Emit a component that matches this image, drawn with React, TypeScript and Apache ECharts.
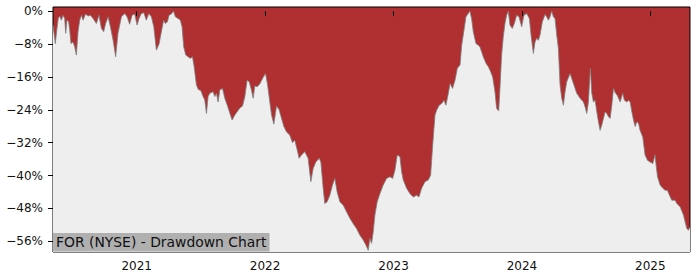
import React, { useEffect, useRef } from "react";
import * as echarts from "echarts";

const years: number[] = [
  2020.348, 2020.366, 2020.379, 2020.389, 2020.4, 2020.413, 2020.426, 2020.439, 2020.447, 2020.457,
  2020.47, 2020.478, 2020.488, 2020.504, 2020.517, 2020.53, 2020.543, 2020.556, 2020.569, 2020.582,
  2020.602, 2020.621, 2020.639, 2020.66, 2020.686, 2020.706, 2020.725, 2020.743, 2020.758, 2020.777,
  2020.795, 2020.816, 2020.836, 2020.854, 2020.881, 2020.906, 2020.925, 2020.945, 2020.964, 2020.984,
  2021.003, 2021.018, 2021.036, 2021.055, 2021.075, 2021.094, 2021.114, 2021.133, 2021.153, 2021.174,
  2021.197, 2021.21, 2021.223, 2021.239, 2021.252, 2021.27, 2021.286, 2021.301, 2021.322, 2021.34,
  2021.353, 2021.366, 2021.382, 2021.4, 2021.418, 2021.434, 2021.447, 2021.465, 2021.481, 2021.499,
  2021.517, 2021.53, 2021.543, 2021.556, 2021.569, 2021.595, 2021.608, 2021.621, 2021.634, 2021.647,
  2021.668, 2021.686, 2021.704, 2021.725, 2021.743, 2021.764, 2021.782, 2021.803, 2021.824, 2021.842,
  2021.86, 2021.876, 2021.894, 2021.907, 2021.92, 2021.938, 2021.959, 2021.972, 2021.985, 2022.003,
  2022.018, 2022.031, 2022.05, 2022.068, 2022.089, 2022.109, 2022.128, 2022.146, 2022.167, 2022.193,
  2022.213, 2022.231, 2022.25, 2022.265, 2022.283, 2022.309, 2022.335, 2022.356, 2022.374, 2022.395,
  2022.421, 2022.434, 2022.452, 2022.465, 2022.483, 2022.504, 2022.525, 2022.543, 2022.561, 2022.582,
  2022.608, 2022.634, 2022.66, 2022.686, 2022.712, 2022.738, 2022.764, 2022.785, 2022.803, 2022.816,
  2022.829, 2022.842, 2022.855, 2022.873, 2022.894, 2022.92, 2022.946, 2022.972, 2022.993, 2023.011,
  2023.029, 2023.05, 2023.063, 2023.076, 2023.102, 2023.128, 2023.154, 2023.18, 2023.198, 2023.219,
  2023.245, 2023.271, 2023.289, 2023.305, 2023.323, 2023.336, 2023.356, 2023.375, 2023.393, 2023.408,
  2023.427, 2023.44, 2023.46, 2023.479, 2023.497, 2023.518, 2023.531, 2023.549, 2023.564, 2023.582,
  2023.595, 2023.608, 2023.621, 2023.642, 2023.66, 2023.673, 2023.699, 2023.72, 2023.738, 2023.757,
  2023.772, 2023.79, 2023.803, 2023.819, 2023.829, 2023.842, 2023.855, 2023.868, 2023.881, 2023.894,
  2023.907, 2023.925, 2023.941, 2023.959, 2023.977, 2023.998, 2024.016, 2024.037, 2024.058, 2024.071,
  2024.089, 2024.102, 2024.115, 2024.128, 2024.141, 2024.159, 2024.18, 2024.193, 2024.206, 2024.219,
  2024.232, 2024.245, 2024.258, 2024.271, 2024.284, 2024.297, 2024.31, 2024.323, 2024.336, 2024.349,
  2024.375, 2024.401, 2024.427, 2024.453, 2024.479, 2024.492, 2024.505, 2024.518, 2024.533, 2024.544,
  2024.557, 2024.57, 2024.583, 2024.596, 2024.609, 2024.622, 2024.635, 2024.648, 2024.661, 2024.674,
  2024.687, 2024.7, 2024.713, 2024.726, 2024.744, 2024.765, 2024.785, 2024.798, 2024.817, 2024.83,
  2024.843, 2024.856, 2024.869, 2024.882, 2024.895, 2024.908, 2024.92, 2024.941, 2024.959, 2024.978,
  2024.998, 2025.019, 2025.037, 2025.045, 2025.056, 2025.076, 2025.097, 2025.115, 2025.133, 2025.149,
  2025.167, 2025.193, 2025.206, 2025.232, 2025.258, 2025.284, 2025.297, 2025.309,
];

const drawdown: number[] = [
  -3.4, -7.9, -4.2, -1.8, -1.2, -2.2, -1.0, -1.8, -5.4, -2.2,
  -2.6, -4.6, -7.9, -7.5, -8.7, -10.7, -5.0, -2.2, -1.0, -2.2,
  -0.7, -1.2, -1.0, -1.8, -3.0, -1.0, -4.2, -5.0, -3.0, -1.4,
  -3.8, -7.1, -11.1, -5.4, -1.4, -0.6, -1.4, -3.2, -1.0, -0.7,
  -3.4, -1.8, -0.6, -0.4, -2.2, -0.6, -1.4, -3.8, -9.5, -8.0,
  -4.2, -2.2, -3.0, -2.6, -1.0, -0.7, 0, -1.4, -1.8, -2.2,
  -3.8, -8.7, -10.7, -11.1, -11.5, -11.1, -13.5, -18.0, -19.1, -19.3,
  -20.8, -21.6, -24.9, -20.8, -20.0, -19.6, -20.8, -20.0, -22.1, -19.2,
  -18.8, -21.2, -22.8, -24.8, -26.5, -25.3, -24.5, -23.6, -23.1, -20.8,
  -16.8, -17.2, -19.3, -21.2, -18.2, -18.4, -17.7, -16.9, -16.1, -15.2,
  -17.7, -20.8, -25.3, -27.5, -23.1, -24.0, -26.1, -28.1, -29.4, -30.2,
  -32.0, -31.4, -33.8, -35.8, -35.0, -34.2, -35.8, -41.5, -38.3, -36.7,
  -35.8, -36.7, -43.1, -46.8, -46.4, -44.8, -42.3, -40.7, -44.0, -46.4,
  -47.2, -48.8, -50.4, -51.7, -52.9, -54.5, -55.7, -56.9, -58.2, -55.3,
  -56.5, -53.7, -49.6, -46.4, -44.4, -42.3, -40.7, -40.3, -40.7, -38.7,
  -35.0, -35.4, -39.1, -41.1, -43.1, -44.4, -45.2, -44.8, -45.2, -43.1,
  -41.5, -41.1, -39.9, -32.6, -25.3, -24.1, -22.9, -22.5, -21.7, -22.9,
  -20.0, -17.6, -18.8, -16.8, -13.9, -13.1, -8.3, -4.6, -1.4, -0.6,
  0, -1.8, -5.0, -7.9, -8.3, -8.7, -11.1, -12.7, -13.5, -14.8,
  -16.0, -19.6, -23.7, -24.3, -18.8, -10.7, -6.2, -3.0, -1.0, 0,
  -3.4, -4.2, -3.0, -1.0, -1.4, -3.8, -1.0, -0.6, -1.8, -5.8,
  -10.3, -7.5, -6.6, -7.1, -5.8, -2.6, -0.8, -1.4, -2.2, -1.4,
  0, -1.4, -1.8, -5.8, -9.1, -18.0, -21.2, -22.9, -19.6, -17.2,
  -15.2, -17.6, -20.0, -21.2, -22.1, -23.3, -24.9, -22.1, -13.9, -20.0,
  -22.1, -21.7, -24.5, -26.9, -29.0, -27.7, -26.1, -24.5, -24.9, -25.7,
  -26.1, -22.9, -18.8, -19.8, -20.6, -22.1, -20.0, -21.7, -22.1, -21.7,
  -22.1, -24.5, -26.5, -28.1, -26.9, -27.3, -29.0, -30.6, -35.0, -36.3,
  -36.7, -37.1, -35.0, -37.5, -40.3, -42.3, -43.1, -43.6, -43.6, -44.8,
  -46.0, -46.0, -46.8, -47.6, -49.6, -52.9, -53.3, -52.5,
];

const yearTicks: number[] = [2021, 2022, 2023, 2024, 2025];
const pctTicks: number[] = [0, -8, -16, -24, -32, -40, -48, -56];
const chartTitle = "FOR (NYSE) - Drawdown Chart";

const FONT = "DejaVu Sans";

export default function App() {
  const ref = useRef<HTMLDivElement>(null);

  useEffect(() => {
    document.body.style.margin = "0";
    if (!ref.current) return;
    const chart = echarts.init(ref.current, null, { renderer: "svg" });
    const data = years.map((y, i) => [y, drawdown[i]]);
    chart.setOption({
      animation: false,
      grid: {
        left: 53,
        right: 10,
        top: 7,
        bottom: 28,
        show: true,
        backgroundColor: "#b03031",
        borderColor: "#000",
        borderWidth: 1,
      },
      title: {
        text: chartTitle,
        left: 53,
        top: 233,
        padding: [2, 3, 2.5, 3],
        backgroundColor: "#b0b0b0",
        textStyle: {
          fontFamily: FONT,
          fontSize: 13.9,
          fontWeight: "normal",
          color: "#111",
          lineHeight: 14,
        },
      },
      xAxis: {
        type: "value",
        min: 2020.348,
        max: 2025.309,
        axisLine: { show: false },
        splitLine: { show: false },
        axisTick: {
          show: true,
          length: 5,
          lineStyle: { color: "#000", width: 1 },
          customValues: yearTicks,
        },
        axisLabel: {
          customValues: yearTicks,
          fontFamily: FONT,
          fontSize: 12,
          color: "#111",
          margin: 8,
          formatter: (v: number) => String(Math.round(v)),
        },
      },
      yAxis: {
        type: "value",
        min: -58.6,
        max: 1.0,
        axisLine: { show: false },
        splitLine: { show: false },
        axisTick: {
          show: true,
          length: 5,
          lineStyle: { color: "#000", width: 1 },
          customValues: pctTicks,
        },
        axisLabel: {
          customValues: pctTicks,
          fontFamily: FONT,
          fontSize: 12,
          color: "#111",
          margin: 10,
          formatter: (v: number) =>
            v === 0 ? "0%" : (v < 0 ? "\u2212" : "") + Math.abs(Math.round(v)) + "%",
        },
      },
      series: [
        {
          type: "line",
          data,
          showSymbol: false,
          symbol: "none",
          lineStyle: { color: "#7f7f7f", width: 0.8 },
          areaStyle: { color: "#eeeeee", opacity: 1, origin: "start" },
          z: 2,
        },
      ],
    });
    return () => chart.dispose();
  }, []);

  return <div ref={ref} style={{ width: 700, height: 280 }} />;
}
